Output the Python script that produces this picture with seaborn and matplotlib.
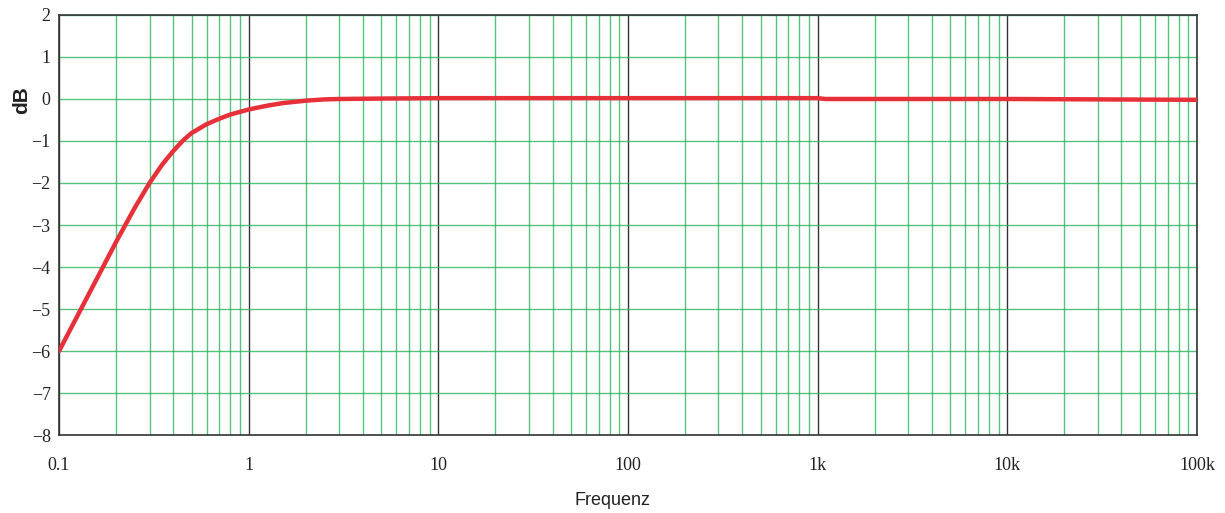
import numpy as np
import pandas as pd
import matplotlib
matplotlib.use('Agg')
import matplotlib.pyplot as plt
import seaborn as sns
from matplotlib.ticker import FixedLocator, LogLocator, NullFormatter

# ── Data ─────────────────────────────────────────────────────
freq = [0.1, 0.2, 0.25, 0.3, 0.35, 0.4, 0.45, 0.5, 0.6, 0.7, 0.8, 1.0, 1.25,
        1.5, 2.0, 2.5, 3.0, 5.0, 10, 100, 1000, 1100, 10000, 100000]
gain_db = [-6.0, -3.4, -2.6, -2.0, -1.56, -1.24, -0.99, -0.81, -0.6, -0.47,
           -0.37, -0.25, -0.16, -0.1, -0.04, -0.01, 0.0, 0.01, 0.02, 0.02,
           0.02, 0.0, 0.0, -0.02]

x_ticks = [0.1, 1, 10, 100, 1000, 10000, 100000]
x_labels = ['0.1', '1', '10', '100', '1k', '10k', '100k']
y_ticks = list(range(-8, 3))
y_labels = [str(v).replace('-', '\u2212') for v in y_ticks]

df = pd.DataFrame({'Frequenz': freq, 'dB': gain_db})

# ── Plot ─────────────────────────────────────────────────────
sns.set_style('white')
plt.rcParams['font.family'] = ['Liberation Serif', 'DejaVu Serif']

fig = plt.figure(figsize=(12.25, 5.13), dpi=100)
ax = fig.add_axes([0.0482, 0.152, 0.9289, 0.8188])

sns.lineplot(data=df, x='Frequenz', y='dB', color='#e8303a',
             linewidth=3.2, ax=ax, zorder=5)

ax.set_xscale('log')
ax.set_xlim(0.1, 100000)
ax.set_ylim(-8, 2)

# grid: black decades, green minor + horizontal
ax.xaxis.set_major_locator(FixedLocator(x_ticks))
ax.set_xticklabels(x_labels)
ax.xaxis.set_minor_locator(LogLocator(base=10, subs=np.arange(2, 10), numticks=50))
ax.xaxis.set_minor_formatter(NullFormatter())
ax.set_yticks(y_ticks)
ax.set_yticklabels(y_labels)

ax.grid(which='major', axis='x', color='#333333', linewidth=1.0)
ax.grid(which='minor', axis='x', color='#2cb35a', linewidth=1.0, alpha=0.8)
ax.grid(which='major', axis='y', color='#2cb35a', linewidth=1.0, alpha=0.8)
ax.set_axisbelow(True)

ax.tick_params(axis='both', which='both', length=0, labelsize=13,
               colors='#222222')
ax.tick_params(axis='x', pad=16)
ax.tick_params(axis='y', pad=6)

for s in ax.spines.values():
    s.set_color('#333333')
    s.set_linewidth(1.2)
    s.set_visible(True)

ax.set_xlabel('')
ax.set_ylabel('')
fig.text(0.5, 0.008, 'Frequenz', ha='center', va='bottom', fontsize=13,
         family='Liberation Sans', color='#222222')
fig.text(0.018, 0.805, 'dB', ha='center', va='center', rotation=90,
         fontsize=15, fontweight='bold', family='Liberation Sans',
         color='#222222')

plt.savefig('out.png', dpi=100)
